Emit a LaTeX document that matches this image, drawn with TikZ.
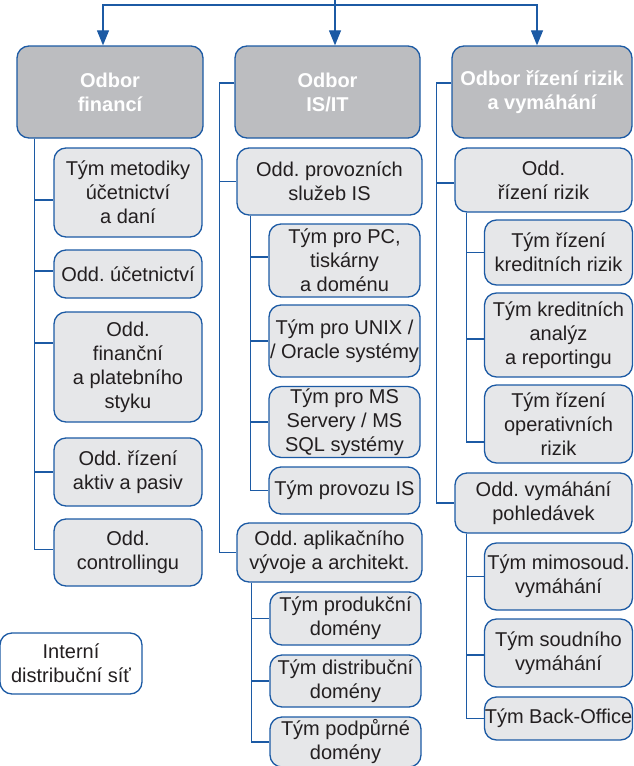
\documentclass[tikz,border=0pt]{standalone}
\usepackage{fontspec}
\setmainfont{Liberation Sans}
\usepackage{tikz}
\usetikzlibrary{positioning, calc, arrows.meta}
\definecolor{orgBlue}{RGB}{28, 90, 164}
\definecolor{orgGray}{RGB}{188, 189, 192}
\definecolor{orgLight}{RGB}{230, 231, 233}
\definecolor{orgText}{RGB}{35, 31, 32}
\frenchspacing
\tikzset{
    base/.style={
        font=\fontsize{20}{24}\selectfont,
        align=center,
        text=orgText
    },
    box/.style={
        base,
        rectangle,
        rounded corners=12pt,
        draw=orgBlue,
        line width=1.3pt,
        inner xsep=0pt,
        inner ysep=2pt
    },
    head/.style={
        box,
        fill=orgGray,
        text=white,
        font=\fontsize{20}{24}\selectfont\bfseries,
        minimum height=92pt
    },
    dept/.style={
        box,
        fill=orgLight
    },
    link/.style={
        line width=1.2pt,
        draw=orgBlue
    },
    flow/.style={
        link,
        -{Triangle[width=12pt, length=15pt]},
        color=orgBlue
    }
}

\begin{document}
\begin{tikzpicture}[x=1pt, y=-1pt]
  \useasboundingbox (0,0) rectangle (633,766);

  % Heads
  \node[head, minimum width=186pt] (fin) at (110,92) {Odbor\\financí};
  \node[head, minimum width=185pt] (isit) at (327.5,92) {Odbor\\IS/IT};
  \node[head, minimum width=180pt] (riz) at (542,92) {Odbor řízení rizik\\a vymáhání};

  % Top arrows
  \coordinate (root) at (335,0);
  \coordinate (bus) at (335,5);
  \draw[link] (root) -- (bus);
  \draw[flow] (bus) -| ([xshift=-7pt]fin.north);
  \draw[flow] (bus) -| ([xshift=7.5pt]isit.north);
  \draw[flow] (bus) -| ([xshift=-5pt]riz.north);

  % Financi
  \node[dept, minimum width=148pt, minimum height=89pt] (k1) at (128,192.5) {Tým metodiky\\účetnictví\\a daní};
  \node[dept, minimum width=148pt, minimum height=48pt] (k2) at (128,274) {Odd. účetnictví};
  \node[dept, minimum width=148pt, minimum height=110pt] (k3) at (128,367) {Odd.\\finanční\\a platebního\\styku};
  \node[dept, minimum width=148pt, minimum height=68pt] (k4) at (128,472) {Odd. řízení\\aktiv a pasiv};
  \node[dept, minimum width=148pt, minimum height=67pt] (k5) at (128,552.5) {Odd.\\controllingu};
  \draw[link] ([xshift=18pt]fin.south west) |- ([yshift=-7.5pt]k1.west);
  \draw[link] ([xshift=18pt]fin.south west) |- ([yshift=3pt]k2.west);
  \draw[link] ([xshift=18pt]fin.south west) |- ([yshift=24pt]k3.west);
  \draw[link] ([xshift=18pt]fin.south west) |- (k4.west);
  \draw[link] ([xshift=18pt]fin.south west) |- ([yshift=3pt]k5.west);

  % IS/IT
  \node[dept, minimum width=185pt, minimum height=67pt] (d1) at (329.5,181.5) {Odd. provozních\\služeb IS};
  \node[dept, minimum width=151pt, minimum height=73pt] (t1) at (344.5,260.5) {Tým pro PC,\\tiskárny\\a doménu};
  \node[dept, minimum width=151pt, minimum height=72pt] (t2) at (344.5,341) {Tým pro UNIX /\\/ Oracle systémy};
  \node[dept, minimum width=151pt, minimum height=70pt] (t3) at (344.5,422) {Tým pro MS\\Servery / MS\\SQL systémy};
  \node[dept, minimum width=151pt, minimum height=47pt] (t4) at (344.5,490.5) {Tým provozu IS};
  \node[dept, minimum width=185pt, minimum height=59pt] (d2) at (329.5,552.5) {Odd. aplikačního\\vývoje a architekt.};
  \node[dept, minimum width=151pt, minimum height=53pt] (t5) at (345.5,618.5) {Tým produkční\\domény};
  \node[dept, minimum width=151pt, minimum height=52pt] (t6) at (345.5,681) {Tým distribuční\\domény};
  \node[dept, minimum width=151pt, minimum height=50pt] (t7) at (345.5,742) {Tým podpůrné\\domény};
  \draw[link] ([yshift=9pt]isit.west) -- ++(-15pt,0) |- (d1.west);
  \draw[link] ([yshift=9pt]isit.west) -- ++(-15pt,0) |- (d2.west);
  \draw[link] ([xshift=14pt]d1.south west) |- ([yshift=3.5pt]t1.west);
  \draw[link] ([xshift=14pt]d1.south west) |- (t2.west);
  \draw[link] ([xshift=14pt]d1.south west) |- (t3.west);
  \draw[link] ([xshift=14pt]d1.south west) |- (t4.west);
  \draw[link] ([xshift=15pt]d2.south west) |- (t5.west);
  \draw[link] ([xshift=15pt]d2.south west) |- (t6.west);
  \draw[link] ([xshift=15pt]d2.south west) |- (t7.west);

  % Rizika
  \node[dept, minimum width=177pt, minimum height=64pt] (r1) at (543.5,180) {Odd.\\řízení rizik};
  \node[dept, minimum width=148pt, minimum height=65pt] (u1) at (558.5,252.5) {Tým řízení\\kreditních rizik};
  \node[dept, minimum width=148pt, minimum height=84pt] (u2) at (558.5,335) {Tým kreditních\\analýz\\a reportingu};
  \node[dept, minimum width=148pt, minimum height=78pt] (u3) at (558.5,424) {Tým řízení\\operativních\\rizik};
  \node[dept, minimum width=177pt, minimum height=60pt] (r2) at (543.5,503) {Odd. vymáhání\\pohledávek};
  \node[dept, minimum width=148pt, minimum height=67pt] (u4) at (558.5,576.5) {Tým mimosoud.\\vymáhání};
  \node[dept, minimum width=148pt, minimum height=68pt] (u5) at (558.5,653) {Tým soudního\\vymáhání};
  \node[dept, minimum width=148pt, minimum height=43pt] (u6) at (558.5,718.5) {Tým Back-Office};
  \draw[link] ([yshift=9pt]riz.west) -- ++(-15pt,0) |- ([yshift=-3pt]r1.west);
  \draw[link] ([yshift=9pt]riz.west) -- ++(-15pt,0) |- (r2.west);
  \draw[link] ([xshift=12pt]r1.south west) |- (u1.west);
  \draw[link] ([xshift=12pt]r1.south west) |- ([yshift=-4pt]u2.west);
  \draw[link] ([xshift=12pt]r1.south west) |- ([yshift=-18pt]u3.west);
  \draw[link] ([xshift=12pt]r2.south west) |- (u4.west);
  \draw[link] ([xshift=12pt]r2.south west) |- ([yshift=-2pt]u5.west);
  \draw[link] ([xshift=12pt]r2.south west) |- (u6.west);

  % Sit
  \node[box, fill=white, minimum width=142pt, minimum height=61pt] (net) at (71,663.5) {Interní\\distribuční síť};
\end{tikzpicture}
\end{document}
